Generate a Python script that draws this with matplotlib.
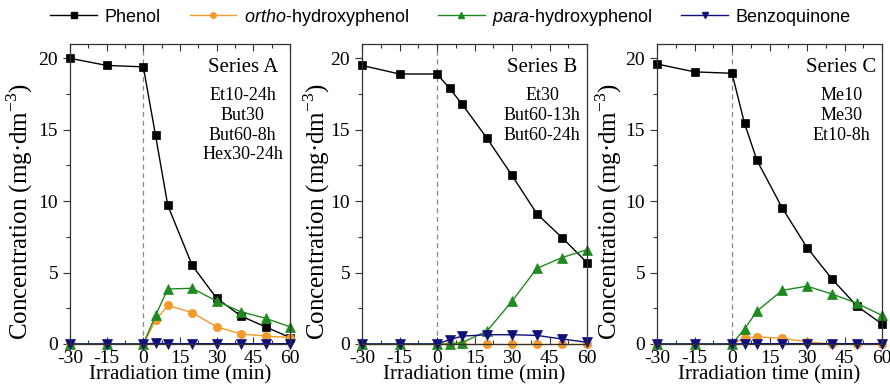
import matplotlib
matplotlib.use("Agg")
import matplotlib.pyplot as plt
from matplotlib.ticker import MultipleLocator
from matplotlib.lines import Line2D

plt.rcParams["axes.unicode_minus"] = False
plt.rcParams["mathtext.fontset"] = "custom"
plt.rcParams["mathtext.rm"] = "Liberation Serif"
plt.rcParams["mathtext.it"] = "Liberation Sans:italic"
plt.rcParams["mathtext.sf"] = "Liberation Sans"

# irradiation time (min)
t = [-30, -15, 0, 5, 10, 20, 30, 40, 50, 60]

# Series A
phenol_a = [20.0, 19.5, 19.4, 14.6, 9.7, 5.5, 3.2, 1.95, 1.2, 0.45]
ortho_a = [0, 0, 0, 1.65, 2.7, 2.2, 1.2, 0.7, 0.56, 0.45]
para_a = [0, 0, 0, 2.0, 3.85, 3.9, 3.0, 2.25, 1.8, 1.2]
benzo_a = [0, 0, 0, 0.05, 0.02, 0.02, 0.02, 0.02, 0.02, 0.02]

# Series B
phenol_b = [19.5, 18.9, 18.9, 17.9, 16.8, 14.4, 11.8, 9.1, 7.45, 5.7]
ortho_b = [0, 0, 0, 0, 0, 0, 0, 0, 0, 0]
para_b = [0, 0, 0, 0, 0.1, 0.9, 3.0, 5.3, 6.05, 6.6]
benzo_b = [0, 0, 0, 0.3, 0.55, 0.65, 0.65, 0.6, 0.35, 0.12]

# Series C
phenol_c = [19.6, 19.05, 18.95, 15.45, 12.85, 9.55, 6.75, 4.55, 2.65, 1.4]
ortho_c = [0, 0, 0, 0.4, 0.5, 0.4, 0.15, 0, 0, 0]
para_c = [0, 0, 0, 1.05, 2.3, 3.75, 4.05, 3.5, 2.85, 2.0]
benzo_c = [0, 0, 0, 0.02, 0.02, 0.02, 0.02, 0.02, 0.02, 0.02]

series_names = ["Series A", "Series B", "Series C"]
samples = [["Et10-24h", "But30", "But60-8h", "Hex30-24h"],
           ["Et30", "But60-13h", "But60-24h"],
           ["Me10", "Me30", "Et10-8h"]]
data = [(phenol_a, ortho_a, para_a, benzo_a),
        (phenol_b, ortho_b, para_b, benzo_b),
        (phenol_c, ortho_c, para_c, benzo_c)]

styles = [dict(color="black", marker="s", ms=6),
          dict(color="#f39a2c", marker="o", ms=6),
          dict(color="#1f8a1f", marker="^", ms=6.5),
          dict(color="#10107a", marker="v", ms=6.5)]
labels = ["Phenol", r"$\it{ortho}$-hydroxyphenol", r"$\it{para}$-hydroxyphenol", "Benzoquinone"]

serif = "Liberation Serif"
W, H = 890, 388
fig = plt.figure(figsize=(W / 100, H / 100), dpi=100)

boxes = [(70, 290), (362, 587), (657, 882)]
top_px, bot_px = 44, 344
label_x = [-0.16, -0.135, -0.145]
text_x = [0.785, 0.80, 0.82]

for i, (l, r) in enumerate(boxes):
    ax = fig.add_axes([l / W, 1 - bot_px / H, (r - l) / W, (bot_px - top_px) / H])
    ax.axvline(0, color="#888888", ls=(0, (4, 3)), lw=0.9, zorder=0)
    for y, st in zip(data[i], styles):
        ax.plot(t, y, lw=1.0, clip_on=False, markeredgewidth=0.5, **st)
    ax.set_xlim(-30, 60)
    ax.set_ylim(0, 21)
    ax.xaxis.set_major_locator(MultipleLocator(15))
    ax.xaxis.set_minor_locator(MultipleLocator(7.5))
    ax.yaxis.set_major_locator(MultipleLocator(5))
    ax.yaxis.set_minor_locator(MultipleLocator(2.5))
    ax.tick_params(axis="x", which="both", direction="in", top=True, bottom=True)
    ax.tick_params(axis="y", which="both", direction="out", left=True, right=False)
    ax.tick_params(which="major", length=5, width=0.8, color="#333333", labelsize=14)
    ax.tick_params(axis="x", which="major", pad=4)
    ax.tick_params(axis="y", which="major", pad=3.5)
    ax.tick_params(which="minor", length=3, width=0.8, color="#333333")
    for lab in ax.get_xticklabels() + ax.get_yticklabels():
        lab.set_fontfamily(serif)
    for sp in ax.spines.values():
        sp.set_color("#333333")
        sp.set_linewidth(0.9)
    ax.set_xlabel("Irradiation time (min)", fontfamily=serif, fontsize=15, labelpad=-1)
    ax.set_ylabel("Concentration (mg\u00b7dm$^{-3}$)", fontfamily=serif, fontsize=18)
    ax.yaxis.set_label_coords(label_x[i], 0.443)
    ax.text(text_x[i], 0.92, series_names[i], transform=ax.transAxes, ha="center", va="center",
            fontfamily=serif, fontsize=15)
    ax.text(text_x[i], 0.855, "\n".join(samples[i]), transform=ax.transAxes, ha="center",
            va="top", fontfamily=serif, fontsize=13, linespacing=1.2)

handles = [Line2D([], [], lw=1.0, markersize=4, **{k: v for k, v in st.items() if k != "ms"})
           for st in styles]
fig.legend(handles, labels, loc="center", bbox_to_anchor=(0.506, 0.956), ncol=4, frameon=False,
           prop={"family": "Liberation Sans", "size": 13}, handlelength=2.6,
           handletextpad=0.4, columnspacing=1.6, borderaxespad=0)

fig.savefig("out.png", dpi=100)
